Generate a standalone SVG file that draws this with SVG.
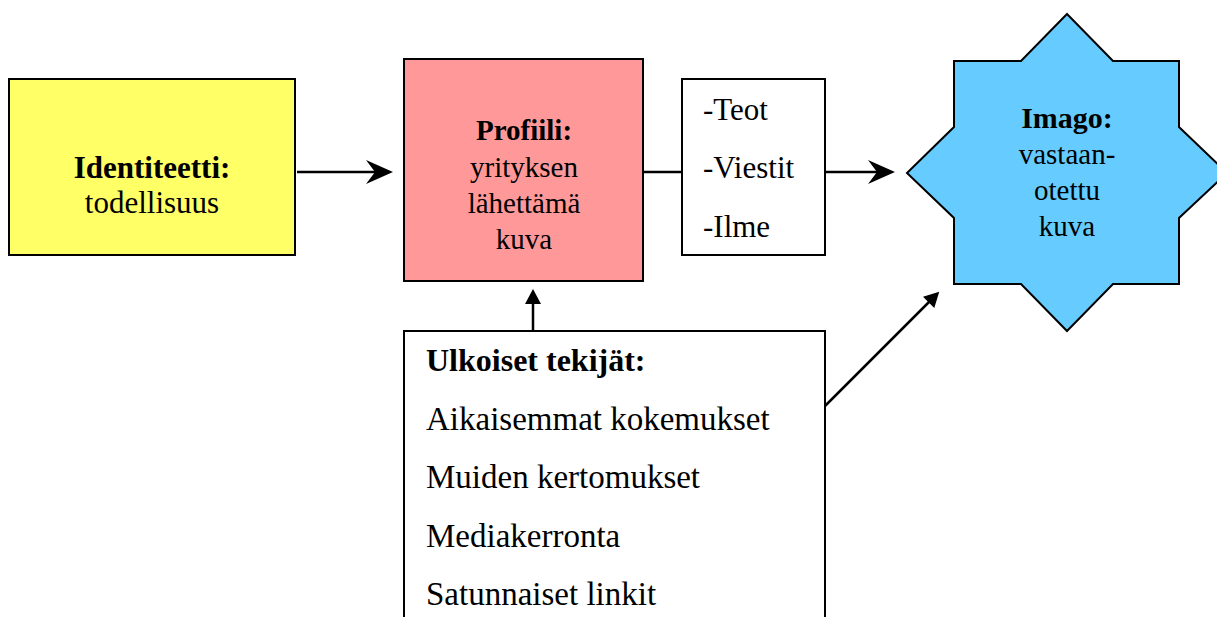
<svg xmlns="http://www.w3.org/2000/svg" width="1217" height="617" viewBox="0 0 1217 617">
<style>
.box{stroke:#000;stroke-width:2}
.t{font-family:"Liberation Serif","Times New Roman",serif;fill:#000}
.c{text-anchor:middle}
.b{font-weight:bold}
.con{stroke:#000;stroke-width:2.5;fill:none}
</style>
<defs>
<marker id="big" markerUnits="userSpaceOnUse" viewBox="-20 -14 32 28" markerWidth="32" markerHeight="28" refX="0" refY="0" orient="auto">
<path d="M10,0 L-17,-12 L-8,0 L-17,12 Z" fill="#000"/>
</marker>
<marker id="small" markerUnits="userSpaceOnUse" viewBox="-12 -10 24 20" markerWidth="24" markerHeight="20" refX="0" refY="0" orient="auto">
<path d="M6,0 L-9,-8 L-9,8 Z" fill="#000"/>
</marker>
</defs>
<rect width="1217" height="617" fill="#fff"/>
<g id="connectors">
<line class="con" x1="297" y1="172" x2="383" y2="172" marker-end="url(#big)"/>
<line class="con" x1="643" y1="172" x2="682" y2="172"/>
<line class="con" x1="825" y1="172" x2="885" y2="172" marker-end="url(#big)"/>
<line class="con" x1="533" y1="331" x2="533" y2="295" marker-end="url(#small)"/>
<line class="con" x1="825" y1="406" x2="935" y2="296" marker-end="url(#small)"/>
</g>
<g id="identiteetti">
<rect class="box" x="9" y="79" width="286" height="176" fill="#FFFF66"/>
<text class="t c b" x="152" y="178" font-size="31">Identiteetti:</text>
<text class="t c" x="152" y="213" font-size="31">todellisuus</text>
</g>
<g id="profiili">
<rect class="box" x="404" y="59" width="239" height="222" fill="#FF9999"/>
<text class="t c b" x="524" y="140" font-size="29">Profiili:</text>
<text class="t c" x="524" y="177" font-size="29">yrityksen</text>
<text class="t c" x="524" y="213" font-size="29">lähettämä</text>
<text class="t c" x="524" y="249" font-size="29">kuva</text>
</g>
<g id="keinot">
<rect class="box" x="682" y="79" width="143" height="176" fill="#fff"/>
<text class="t" x="703" y="120" font-size="31">-Teot</text>
<text class="t" x="703" y="178" font-size="31">-Viestit</text>
<text class="t" x="703" y="237" font-size="31">-Ilme</text>
</g>
<g id="imago">
<polygon class="box" fill="#66CCFF" points="1067,14 1113,61 1179,61 1179,127 1227,173 1179,218 1179,284 1113,284 1067,331 1021,284 954,284 954,218 907,173 954,127 954,61 1021,61"/>
<text class="t c b" x="1067" y="128" font-size="30">Imago:</text>
<text class="t c" x="1067" y="164" font-size="29">vastaan-</text>
<text class="t c" x="1067" y="200" font-size="29">otettu</text>
<text class="t c" x="1067" y="236" font-size="29">kuva</text>
</g>
<g id="ulkoiset">
<rect class="box" x="404" y="331" width="421" height="300" fill="#fff"/>
<text class="t b" x="426" y="371" font-size="32">Ulkoiset tekijät:</text>
<text class="t" x="426" y="430" font-size="33">Aikaisemmat kokemukset</text>
<text class="t" x="426" y="488" font-size="33">Muiden kertomukset</text>
<text class="t" x="426" y="547" font-size="33">Mediakerronta</text>
<text class="t" x="426" y="605" font-size="33">Satunnaiset linkit</text>
</g>
</svg>
